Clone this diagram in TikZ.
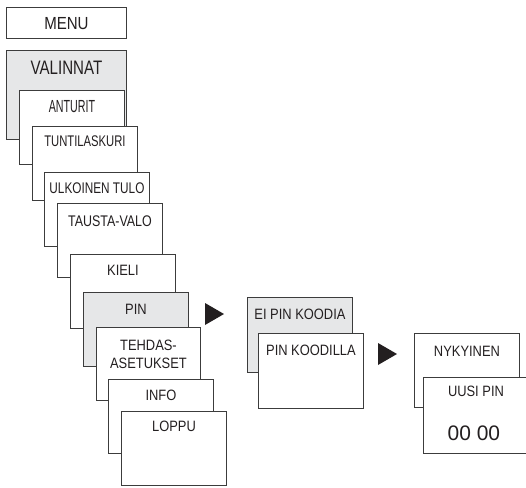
\documentclass[tikz,border=0pt]{standalone}
\usepackage{fontspec}
\setmainfont{Liberation Sans}
\newfontfamily\fN{Liberation Sans}[FakeStretch=0.86]
\usepackage{graphicx}
\definecolor{linec}{HTML}{3C3C3C}
\definecolor{grayf}{HTML}{E6E7E8}
\definecolor{txtc}{HTML}{231F20}
\begin{document}
\begin{tikzpicture}[x=1pt,y=-1pt,
  box/.style={draw=linec, line width=0.9pt, fill=white, rectangle, inner sep=0pt,
    minimum width=105pt, minimum height=74pt, anchor=north west},
  graybox/.style={box, fill=grayf},
  lbl/.style={anchor=base, inner sep=0pt, text=txtc, align=center,
    font=\fN\fontsize{15}{18.3}\selectfont},
  tri/.style={fill=txtc, draw=none}]
\useasboundingbox (0,0) rectangle (526,487);

% MENU
\node[box, minimum width=120pt, minimum height=31pt] (menu) at (6,7) {};
\node[lbl, font=\fN\fontsize{17.5}{20}\selectfont] (menut) at ([yshift=-22.3pt]menu.north) {MENU};

% left cascade
\node[graybox, minimum width=120pt, minimum height=89pt] (valinnat) at (6,50) {};
\node[lbl, font=\fN\fontsize{19.5}{22}\selectfont] (valinnatt) at ([yshift=-24pt]valinnat.north) {\scalebox{0.9}[1]{VALINNAT}};

\node[box] (anturit) at (19,90) {};
\node[lbl, font=\fN\fontsize{17.5}{20}\selectfont] (anturitt) at ([yshift=-22.7pt]anturit.north) {\scalebox{0.71}[1]{ANTURIT}};

\node[box] (tunti) at (32,126) {};
\node[lbl, font=\fN\fontsize{15.4}{18}\selectfont] (tuntit) at ([yshift=-20.7pt]tunti.north) {\scalebox{0.85}[1]{TUNTILASKURI}};

\node[box] (ulko) at (44,172) {};
\node[lbl, font=\fN\fontsize{15.4}{18}\selectfont] (ulkot) at ([yshift=-21.5pt]ulko.north) {\scalebox{0.89}[1]{ULKOINEN TULO}};

\node[box] (tausta) at (57,203) {};
\node[lbl, font=\fN\fontsize{15.4}{18}\selectfont] (taustat) at ([yshift=-23pt]tausta.north) {\scalebox{0.94}[1]{TAUSTA-VALO}};

\node[box] (kieli) at (70,254) {};
\node[lbl] (kielit) at ([yshift=-21.7pt]kieli.north) {KIELI};

\node[graybox] (pin) at (83,292) {};
\node[lbl] (pint) at ([yshift=-22pt]pin.north) {PIN};

\node[box, minimum width=104pt, minimum height=73pt] (tehdas) at (96,327) {};
\node[lbl] (tehdast) at ([yshift=-41.3pt]tehdas.north) {TEHDAS-\\ASETUKSET};

\node[box] (info) at (108,379) {};
\node[lbl] (infot) at ([yshift=-21pt]info.north) {INFO};

\node[box] (loppu) at (121,411) {};
\node[lbl] (loppot) at ([yshift=-20.7pt]loppu.north) {LOPPU};

% arrow 1
\fill[tri] (205,303) -- (224,314) -- (205,325) -- cycle;

% middle
\node[graybox, minimum height=75pt] (eipin) at (247,297) {};
\node[lbl] (eipint) at ([yshift=-22.3pt]eipin.north) {EI PIN KOODIA};

\node[box, minimum height=75pt] (pinkood) at (258,333) {};
\node[lbl] (pinkoodt) at ([yshift=-22pt]pinkood.north) {PIN KOODILLA};

% arrow 2
\fill[tri] (378,343) -- (397,354) -- (378,365) -- cycle;

% right
\node[box] (nyky) at (414,333) {};
\node[lbl] (nykyt) at ([yshift=-23.5pt]nyky.north) {NYKYINEN};

\node[box, minimum height=76pt] (uusi) at (423,377) {};
\node[lbl] (uusit) at ([yshift=-19pt]uusi.north) {UUSI PIN};
\node[lbl, font=\fN\fontsize{21}{24}\selectfont] (pinval) at ([xshift=-2pt,yshift=-63pt]uusi.north) {\scalebox{1.16}[1]{00 00}};
\end{tikzpicture}
\end{document}
